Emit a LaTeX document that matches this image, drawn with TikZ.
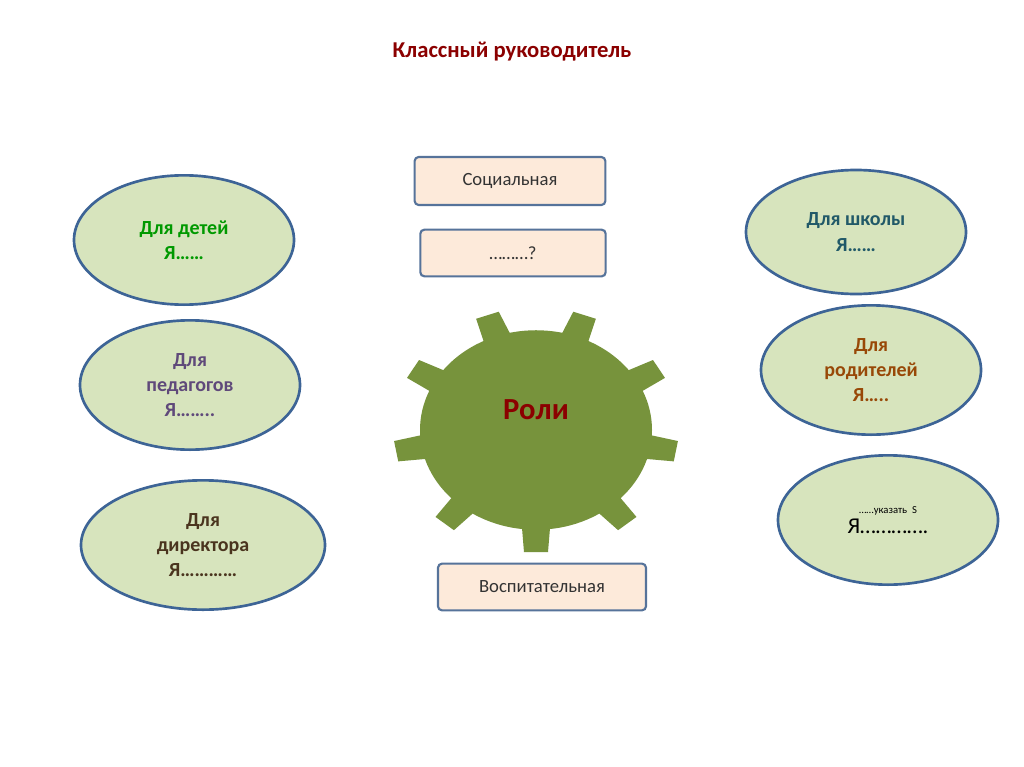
\documentclass[tikz,border=0pt]{standalone}
\usepackage{fontspec}
\setmainfont{Carlito}
\usetikzlibrary{shapes.geometric}
\begin{document}
\begin{tikzpicture}[x=0.75pt,y=-0.75pt,
  ell/.style={ellipse,draw=elb,line width=2pt,fill=elf,align=center,font=\bfseries\fontsize{15}{19}\selectfont},
  box/.style={draw=bxb,line width=1.6pt,fill=bxf,rounded corners=3pt,font=\fontsize{14}{17}\selectfont,text=black!80}]
\definecolor{elb}{HTML}{3D6496}\definecolor{elf}{HTML}{D7E4BD}
\definecolor{bxb}{HTML}{56739A}\definecolor{bxf}{HTML}{FDEADA}
\definecolor{gear}{HTML}{77933C}\definecolor{dred}{HTML}{8B0000}
\useasboundingbox (0,0) rectangle (1024,767);
\fill[white] (0,0) rectangle (1024,767);
\node (title) at (512,52) {\textcolor{dred}{\bfseries\fontsize{17}{20}\selectfont Классный руководитель}};
\node[box,minimum width=143pt,minimum height=36pt] (soc) at (510,181) {Социальная};
\node[box,minimum width=139pt,minimum height=35pt] (q) at (513,253) {………?};
\node[box,minimum width=156pt,minimum height=35pt] (vos) at (542,587) {Воспитательная};
% gear
\begin{scope}[shift={(536,430)},yscale=0.86]
\fill[gear] (0,0) circle (116);
\foreach \a in {90,130,...,410}{
  \fill[gear,rotate=-\a] (100,-15) -- (142,-12) -- (142,12) -- (100,15) -- cycle;}
\end{scope}
\node (roli) at (536,410) {\textcolor{dred}{\bfseries\fontsize{23}{26}\selectfont Роли}};
\node[ell,minimum width=165pt,minimum height=97pt,text=green!60!black] (e1) at (184,240) {Для детей\\Я……};
\node[ell,minimum width=165pt,minimum height=97pt,text={rgb,255:red,95;green,73;blue,122}] (e2) at (190,385) {Для\\педагогов\\Я……..};
\node[ell,minimum width=183pt,minimum height=97pt,text={rgb,255:red,74;green,52;blue,30}] (e3) at (203,545) {Для\\директора\\Я…………};
\node[ell,minimum width=165pt,minimum height=93pt,text={rgb,255:red,33;green,89;blue,104}] (e4) at (856,232) {Для школы\\Я……};
\node[ell,minimum width=165pt,minimum height=97pt,text={rgb,255:red,152;green,72;blue,7}] (e5) at (871,370) {Для\\родителей\\Я…..};
\node[ell,minimum width=165pt,minimum height=97pt,font=\normalfont] (e6) at (888,520) {{\fontsize{8}{10}\selectfont ……указать\ \ S}\\[2pt]{\fontsize{17}{19}\selectfont Я………….}};
\end{tikzpicture}
\end{document}
